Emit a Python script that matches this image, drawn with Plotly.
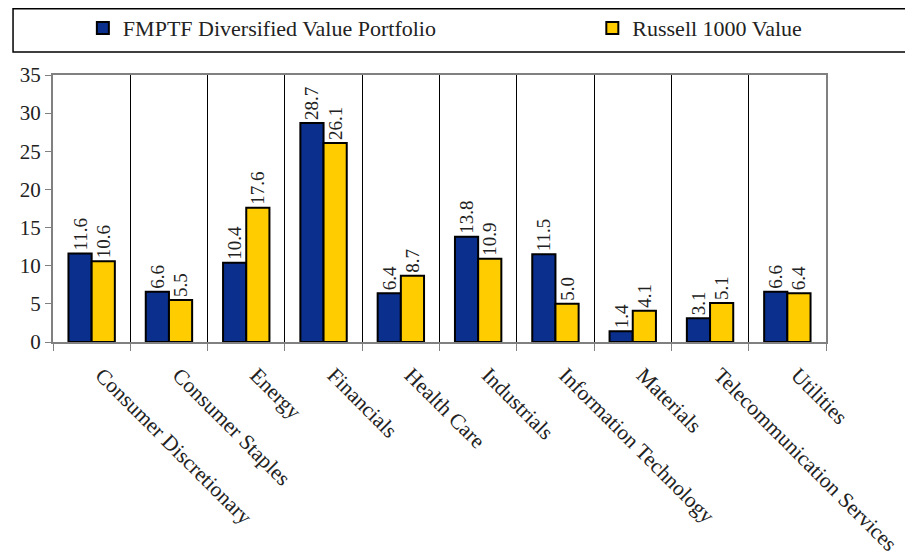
import plotly.graph_objects as go

categories = ["Consumer Discretionary", "Consumer Staples", "Energy", "Financials",
              "Health Care", "Industrials", "Information Technology", "Materials",
              "Telecommunication Services", "Utilities"]
fmptf = [11.6, 6.6, 10.4, 28.7, 6.4, 13.8, 11.5, 1.4, 3.1, 6.6]
russell = [10.6, 5.5, 17.6, 26.1, 8.7, 10.9, 5.0, 4.1, 5.1, 6.4]
series_names = ["FMPTF Diversified Value Portfolio", "Russell 1000 Value"]

FONT = "Liberation Serif"
TXT = "#222222"

fig = go.Figure()
fig.add_trace(go.Bar(
    x=categories, y=fmptf, name=series_names[0], legend="legend",
    marker=dict(color="#0B2F8C", line=dict(color="black", width=2)),
    text=[f"{v:.1f}" for v in fmptf], textposition="outside", textangle=-90,
    constraintext="none",
    textfont=dict(family=FONT, size=19, color=TXT), cliponaxis=False,
))
fig.add_trace(go.Bar(
    x=categories, y=russell, name=series_names[1], legend="legend2",
    marker=dict(color="#FFCC00", line=dict(color="black", width=2)),
    text=[f"{v:.1f}" for v in russell], textposition="outside", textangle=-90,
    constraintext="none",
    textfont=dict(family=FONT, size=19, color=TXT), cliponaxis=False,
))

leg_common = dict(orientation="h", xref="container", yref="container",
                  yanchor="middle", xanchor="left", itemwidth=30,
                  font=dict(family=FONT, size=22, color=TXT),
                  bgcolor="rgba(0,0,0,0)")

fig.update_layout(
    width=913, height=558,
    margin=dict(l=45, r=95, t=67, b=224, autoexpand=False),
    paper_bgcolor="white", plot_bgcolor="white",
    barmode="group", bargap=0.4, bargroupgap=0.0,
    font=dict(family=FONT, size=18, color=TXT),
    showlegend=True,
    legend=dict(x=0.082, y=0.964, **leg_common),
    legend2=dict(x=0.640, y=0.964, **leg_common),
    shapes=[dict(type="rect", xref="paper", yref="paper",
                 x0=-0.0517, x1=1.1035, y0=1.086, y1=1.248,
                 line=dict(color="black", width=1.5), fillcolor="rgba(0,0,0,0)")],
)
fig.update_xaxes(
    type="category", tickson="boundaries", ticks="outside", ticklen=7, tickcolor="#808080",
    showgrid=True, gridcolor="black", gridwidth=1,
    showline=True, linecolor="#808080", linewidth=2, mirror=True,
    tickangle=45, tickfont=dict(family=FONT, size=21.5, color=TXT),
    ticklabelstandoff=10, ticklabelshift=10,
)
fig.update_yaxes(
    range=[0, 35], dtick=5, ticks="outside", ticklen=6, tickcolor="#808080",
    showgrid=False, zeroline=False,
    showline=True, linecolor="#808080", linewidth=2, mirror=True,
    tickfont=dict(family=FONT, size=21, color=TXT),
)

fig.write_html("out.html")
